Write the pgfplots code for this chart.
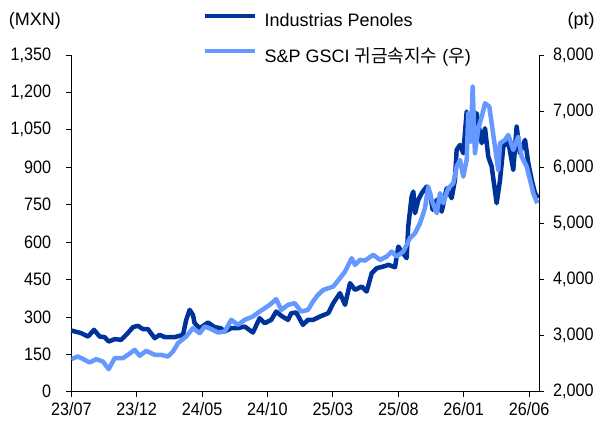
\documentclass[border=0pt]{standalone}
\usepackage{fontspec}
\setmainfont{Liberation Sans}[FakeStretch=0.9]
\newfontfamily\legfont{Liberation Sans}
\newfontfamily\kofont{Noto Sans CJK KR}
\usepackage{pgfplots}
\usepackage{pgfplotstable}
\pgfplotsset{compat=1.18}
\definecolor{penoles}{RGB}{0,51,153}
\definecolor{gsci}{RGB}{102,153,255}

\pgfplotstableread{
m v
0.00 245.6
0.76 235.2
1.28 221.5
1.74 248.4
2.17 221.5
2.55 219.1
2.86 201.5
3.32 211.1
3.82 208.3
4.20 228.3
4.72 259.2
5.10 264.4
5.48 251.2
5.86 251.2
6.38 215.1
6.76 228.3
7.14 219.1
7.91 219.1
8.54 228.3
8.79 288.4
9.05 328.5
9.30 308.5
9.43 275.2
9.82 255.2
10.20 268.4
10.45 277.6
10.96 259.2
11.42 255.2
11.73 241.6
12.23 255.2
12.74 255.2
13.26 261.6
13.89 237.6
14.40 295.2
14.79 275.2
15.29 288.4
15.67 321.7
16.06 304.5
16.57 288.4
16.82 315.3
17.20 317.7
17.71 268.4
18.10 288.4
18.50 288.4
19.01 301.6
19.65 315.3
20.03 355.3
20.54 395.4
20.93 348.5
21.31 435.4
21.69 408.6
22.20 421.8
22.58 401.8
22.97 475.5
23.35 495.5
23.85 502.0
24.24 508.8
24.75 499.5
25.00 582.1
25.26 562.0
25.64 535.6
25.76 662.2
26.02 782.4
26.15 802.4
26.28 715.9
26.53 769.2
26.79 796.0
27.17 822.4
27.42 796.0
27.63 729.1
27.94 769.2
28.32 722.3
28.70 816.0
29.08 776.0
29.33 849.3
29.46 969.5
29.72 989.5
29.97 956.2
30.23 1122.9
30.48 1076.4
30.73 1009.5
30.99 1116.5
31.38 996.3
31.63 1056.4
31.88 942.6
32.14 902.6
32.52 755.9
32.78 849.3
33.03 982.7
33.41 1002.7
33.79 889.3
34.05 1062.8
34.30 956.2
34.69 1009.5
34.94 916.2
35.20 849.3
35.45 796.0
35.70 776.0
}\penoles

\pgfplotstableread{
m v
0.00 2582
0.51 2629
1.02 2570
1.41 2522
1.91 2582
2.42 2539
2.86 2404
3.32 2600
3.95 2600
4.33 2659
4.85 2748
5.23 2641
5.73 2730
6.38 2659
6.88 2659
7.39 2628
7.78 2718
8.16 2867
8.79 2985
9.30 3134
9.82 3045
10.20 3163
10.70 3116
11.22 3056
11.73 3074
12.23 3282
12.74 3193
13.26 3282
13.89 3341
14.40 3430
14.79 3490
15.17 3549
15.67 3650
16.06 3460
16.57 3549
17.08 3579
17.58 3430
18.10 3460
18.48 3608
18.86 3727
19.27 3816
20.03 3875
20.54 4024
20.93 4142
21.44 4380
21.69 4261
22.07 4350
22.45 4338
23.09 4439
23.60 4350
24.11 4409
24.50 4498
24.88 4409
25.38 4498
25.89 4736
26.28 4825
26.66 5003
27.04 5271
27.29 5655
27.55 5418
27.94 5182
28.19 5538
28.44 5360
28.82 5627
29.21 5716
29.46 6011
29.72 6131
29.97 5833
30.23 6131
30.35 6962
30.53 6456
30.69 7436
30.86 6250
31.12 6695
31.38 6901
31.63 7140
31.96 7079
32.14 6784
32.39 6367
32.64 5952
32.78 6428
33.16 6487
33.41 6576
33.79 6309
34.17 6545
34.43 6189
34.82 6011
35.07 5774
35.32 5538
35.63 5360
}\gsci

\begin{document}
\begin{tikzpicture}
\pgfplotsset{
  common/.style={
    scale only axis, width=468bp, height=337bp,
    xmin=0, xmax=35.76,
    tick align=outside, major tick length=5bp,
    tick style={black, line width=0.8bp},
    axis line style={black, line width=0.8bp},
    ticklabel style={font=\fontsize{18bp}{20bp}\selectfont},
    /pgf/number format/.cd, 1000 sep={,}, assume math mode=true,
  }
}
\begin{axis}[common, name=main,
  ymin=0, ymax=1350, ytick={0,150,...,1350},
  axis x line*=bottom, axis y line*=left,
  xtick={0,5,...,35},
  xticklabels={23/07,23/12,24/05,24/10,25/03,25/08,26/01,26/06},
  yticklabel style={anchor=east, inner sep=0pt, xshift=-15bp},
  xticklabel style={anchor=north, inner sep=0pt, yshift=-5bp},
  clip=false,
  legend style={at={(rel axis cs:0.2816,1.123)}, anchor=north west,
    draw=none, fill=none, inner sep=0pt, row sep=18bp, column sep=7bp,
    font=\legfont\fontsize{18bp}{20bp}\selectfont,
    nodes={inner sep=0pt, text height=13bp, text depth=4bp, anchor=west}},
  legend cell align=left,
  legend image code/.code={\draw[#1] (0bp,6.5bp) -- (50bp,6.5bp);},
]
\addplot[penoles, line width=4.5bp, line join=round] table[x=m,y=v]{\penoles};
\addlegendentry{Industrias Penoles}
\addlegendimage{gsci, line width=4.5bp}
\addlegendentry{S\&P GSCI {\kofont 귀금속지수} ({\kofont 우})}
\node[font=\legfont\fontsize{18bp}{20bp}\selectfont] at (rel axis cs:-0.0776,1.102) {(MXN)};
\node[font=\legfont\fontsize{18bp}{20bp}\selectfont] at (rel axis cs:1.0898,1.102) {(pt)};
\end{axis}
\begin{axis}[common,
  ymin=2000, ymax=8000, ytick={2000,3000,...,8000},
  axis x line=none, axis y line*=right,
  yticklabel style={anchor=west, inner sep=0pt, xshift=9bp},
]
\addplot[gsci, line width=4.5bp, line join=round] table[x=m,y=v]{\gsci};
\end{axis}
\pgfresetboundingbox
\path ([shift={(-71.3bp,-31bp)}]main.south west) rectangle ([shift={(63bp,55bp)}]main.north east);
\end{tikzpicture}
\end{document}
